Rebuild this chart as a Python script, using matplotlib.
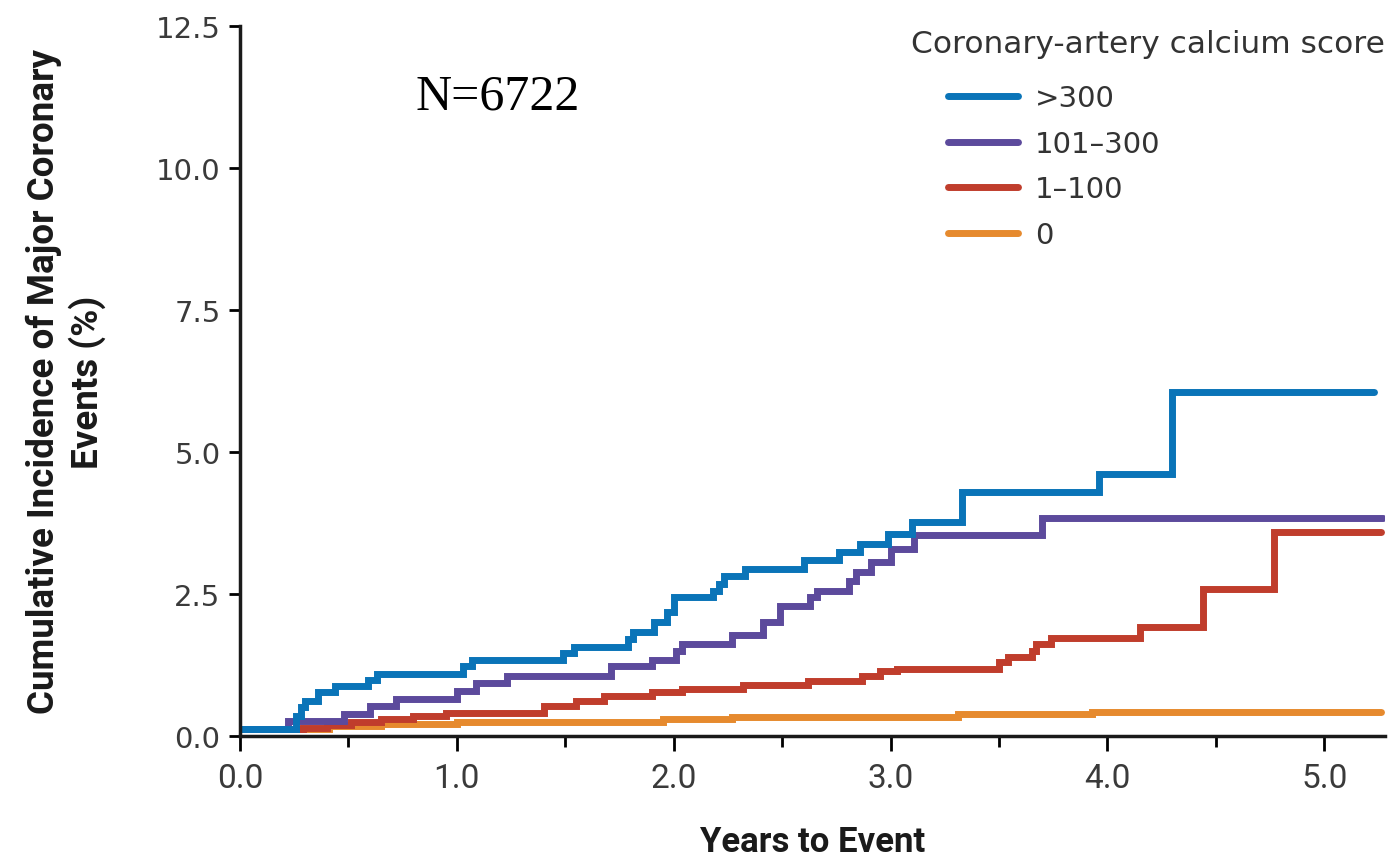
import matplotlib
matplotlib.use("Agg")
import matplotlib.pyplot as plt

# step data (years, cumulative incidence %)
t_gt300 = [0, 0.26, 0.28, 0.30, 0.36, 0.44, 0.59, 0.63, 1.03, 1.07, 1.49, 1.54, 1.79, 1.81, 1.91,
           1.97, 2.00, 2.18, 2.21, 2.23, 2.33, 2.60, 2.76, 2.86, 2.99, 3.10, 3.33, 3.96, 4.30, 5.23]
v_gt300 = [0.12, 0.35, 0.51, 0.62, 0.78, 0.88, 0.99, 1.10, 1.23, 1.34, 1.46, 1.56, 1.71, 1.83, 2.00,
           2.18, 2.44, 2.56, 2.68, 2.82, 2.94, 3.09, 3.24, 3.38, 3.56, 3.77, 4.29, 4.61, 6.06, 6.06]

t_101_300 = [0, 0.22, 0.48, 0.60, 0.72, 1.00, 1.09, 1.23, 1.71, 1.90, 2.01, 2.04, 2.27, 2.41,
             2.49, 2.63, 2.66, 2.81, 2.84, 2.91, 3.00, 3.11, 3.70, 5.27]
v_101_300 = [0.12, 0.27, 0.39, 0.53, 0.65, 0.80, 0.93, 1.06, 1.23, 1.33, 1.50, 1.62, 1.77, 2.00,
             2.29, 2.44, 2.56, 2.73, 2.88, 3.06, 3.29, 3.53, 3.83, 3.83]

t_1_100 = [0, 0.29, 0.40, 0.51, 0.65, 0.80, 0.95, 1.40, 1.55, 1.68, 1.90, 2.04, 2.32, 2.62, 2.87,
           2.95, 3.03, 3.50, 3.54, 3.65, 3.67, 3.74, 4.15, 4.44, 4.77, 5.26]
v_1_100 = [0.12, 0.14, 0.19, 0.25, 0.30, 0.35, 0.41, 0.53, 0.62, 0.71, 0.78, 0.83, 0.89, 0.97, 1.06,
           1.15, 1.18, 1.30, 1.39, 1.50, 1.62, 1.72, 1.92, 2.59, 3.59, 3.59]

t_0 = [0, 0.41, 0.65, 1.00, 1.95, 2.27, 3.31, 3.93, 5.26]
v_0 = [0.12, 0.18, 0.21, 0.25, 0.30, 0.33, 0.39, 0.43, 0.43]

labels = [">300", "101\u2013300", "1\u2013100", "0"]
colors = ["#0a74b8", "#5c4a9c", "#c03d2c", "#e68a2e"]
series = [(t_gt300, v_gt300), (t_101_300, v_101_300), (t_1_100, v_1_100), (t_0, v_0)]

fig = plt.figure(figsize=(13.9, 8.62), dpi=100)
ax = fig.add_axes([240 / 1390, 1 - 737 / 862, (1385 - 240) / 1390, (737 - 27) / 862])

handles = []
for i in range(len(series) - 1, -1, -1):
    t, v = series[i]
    ln, = ax.plot(t, v, drawstyle="steps-post", color=colors[i], lw=5,
                  solid_capstyle="round", solid_joinstyle="miter", label=labels[i])
    handles.insert(0, ln)

ax.set_xlim(0, 5.28)
ax.set_ylim(0, 12.5)
ax.set_xticks([0, 1, 2, 3, 4, 5])
ax.set_xticks([0.5, 1.5, 2.5, 3.5, 4.5], minor=True)
ax.set_xticklabels(["0.0", "1.0", "2.0", "3.0", "4.0", "5.0"], family="Roboto", fontsize=24, color="#3a3a3a")
ax.set_yticks([0, 2.5, 5, 7.5, 10, 12.5])
ax.set_yticklabels(["0.0", "2.5", "5.0", "7.5", "10.0", "12.5"], fontsize=21, color="#3a3a3a")

for s in ["top", "right"]:
    ax.spines[s].set_visible(False)
for s in ["left", "bottom"]:
    ax.spines[s].set_linewidth(2.5)
    ax.spines[s].set_color("#1a1a1a")
ax.tick_params(axis="y", length=8, width=2, pad=6)
ax.tick_params(axis="x", which="major", length=11, width=2, pad=8)
ax.tick_params(axis="x", which="minor", length=8, width=2)

ax.set_xlabel("Years to Event", family="Roboto", fontweight="bold", fontsize=25, labelpad=22, color="#1a1a1a")
ax.set_ylabel("Cumulative Incidence of Major Coronary\nEvents (%)", family="Roboto", fontweight="bold",
              fontsize=26.5, labelpad=36, color="#1a1a1a", linespacing=1.2)

ax.text(0.81, 11.27, "N=6722", family="Liberation Serif", fontsize=36, va="center", ha="left")

ax.text(1.0, 0.975, "Coronary-artery calcium score", transform=ax.transAxes, ha="right", va="center",
        fontsize=22.5, color="#333333")
ax.legend(handles=handles, loc="upper left", bbox_to_anchor=(0.618, 0.918), frameon=False,
          fontsize=21, handlelength=2.4, handletextpad=0.6, labelspacing=0.6,
          borderpad=0, borderaxespad=0, labelcolor="#333333")

fig.savefig("out.png", dpi=100)
